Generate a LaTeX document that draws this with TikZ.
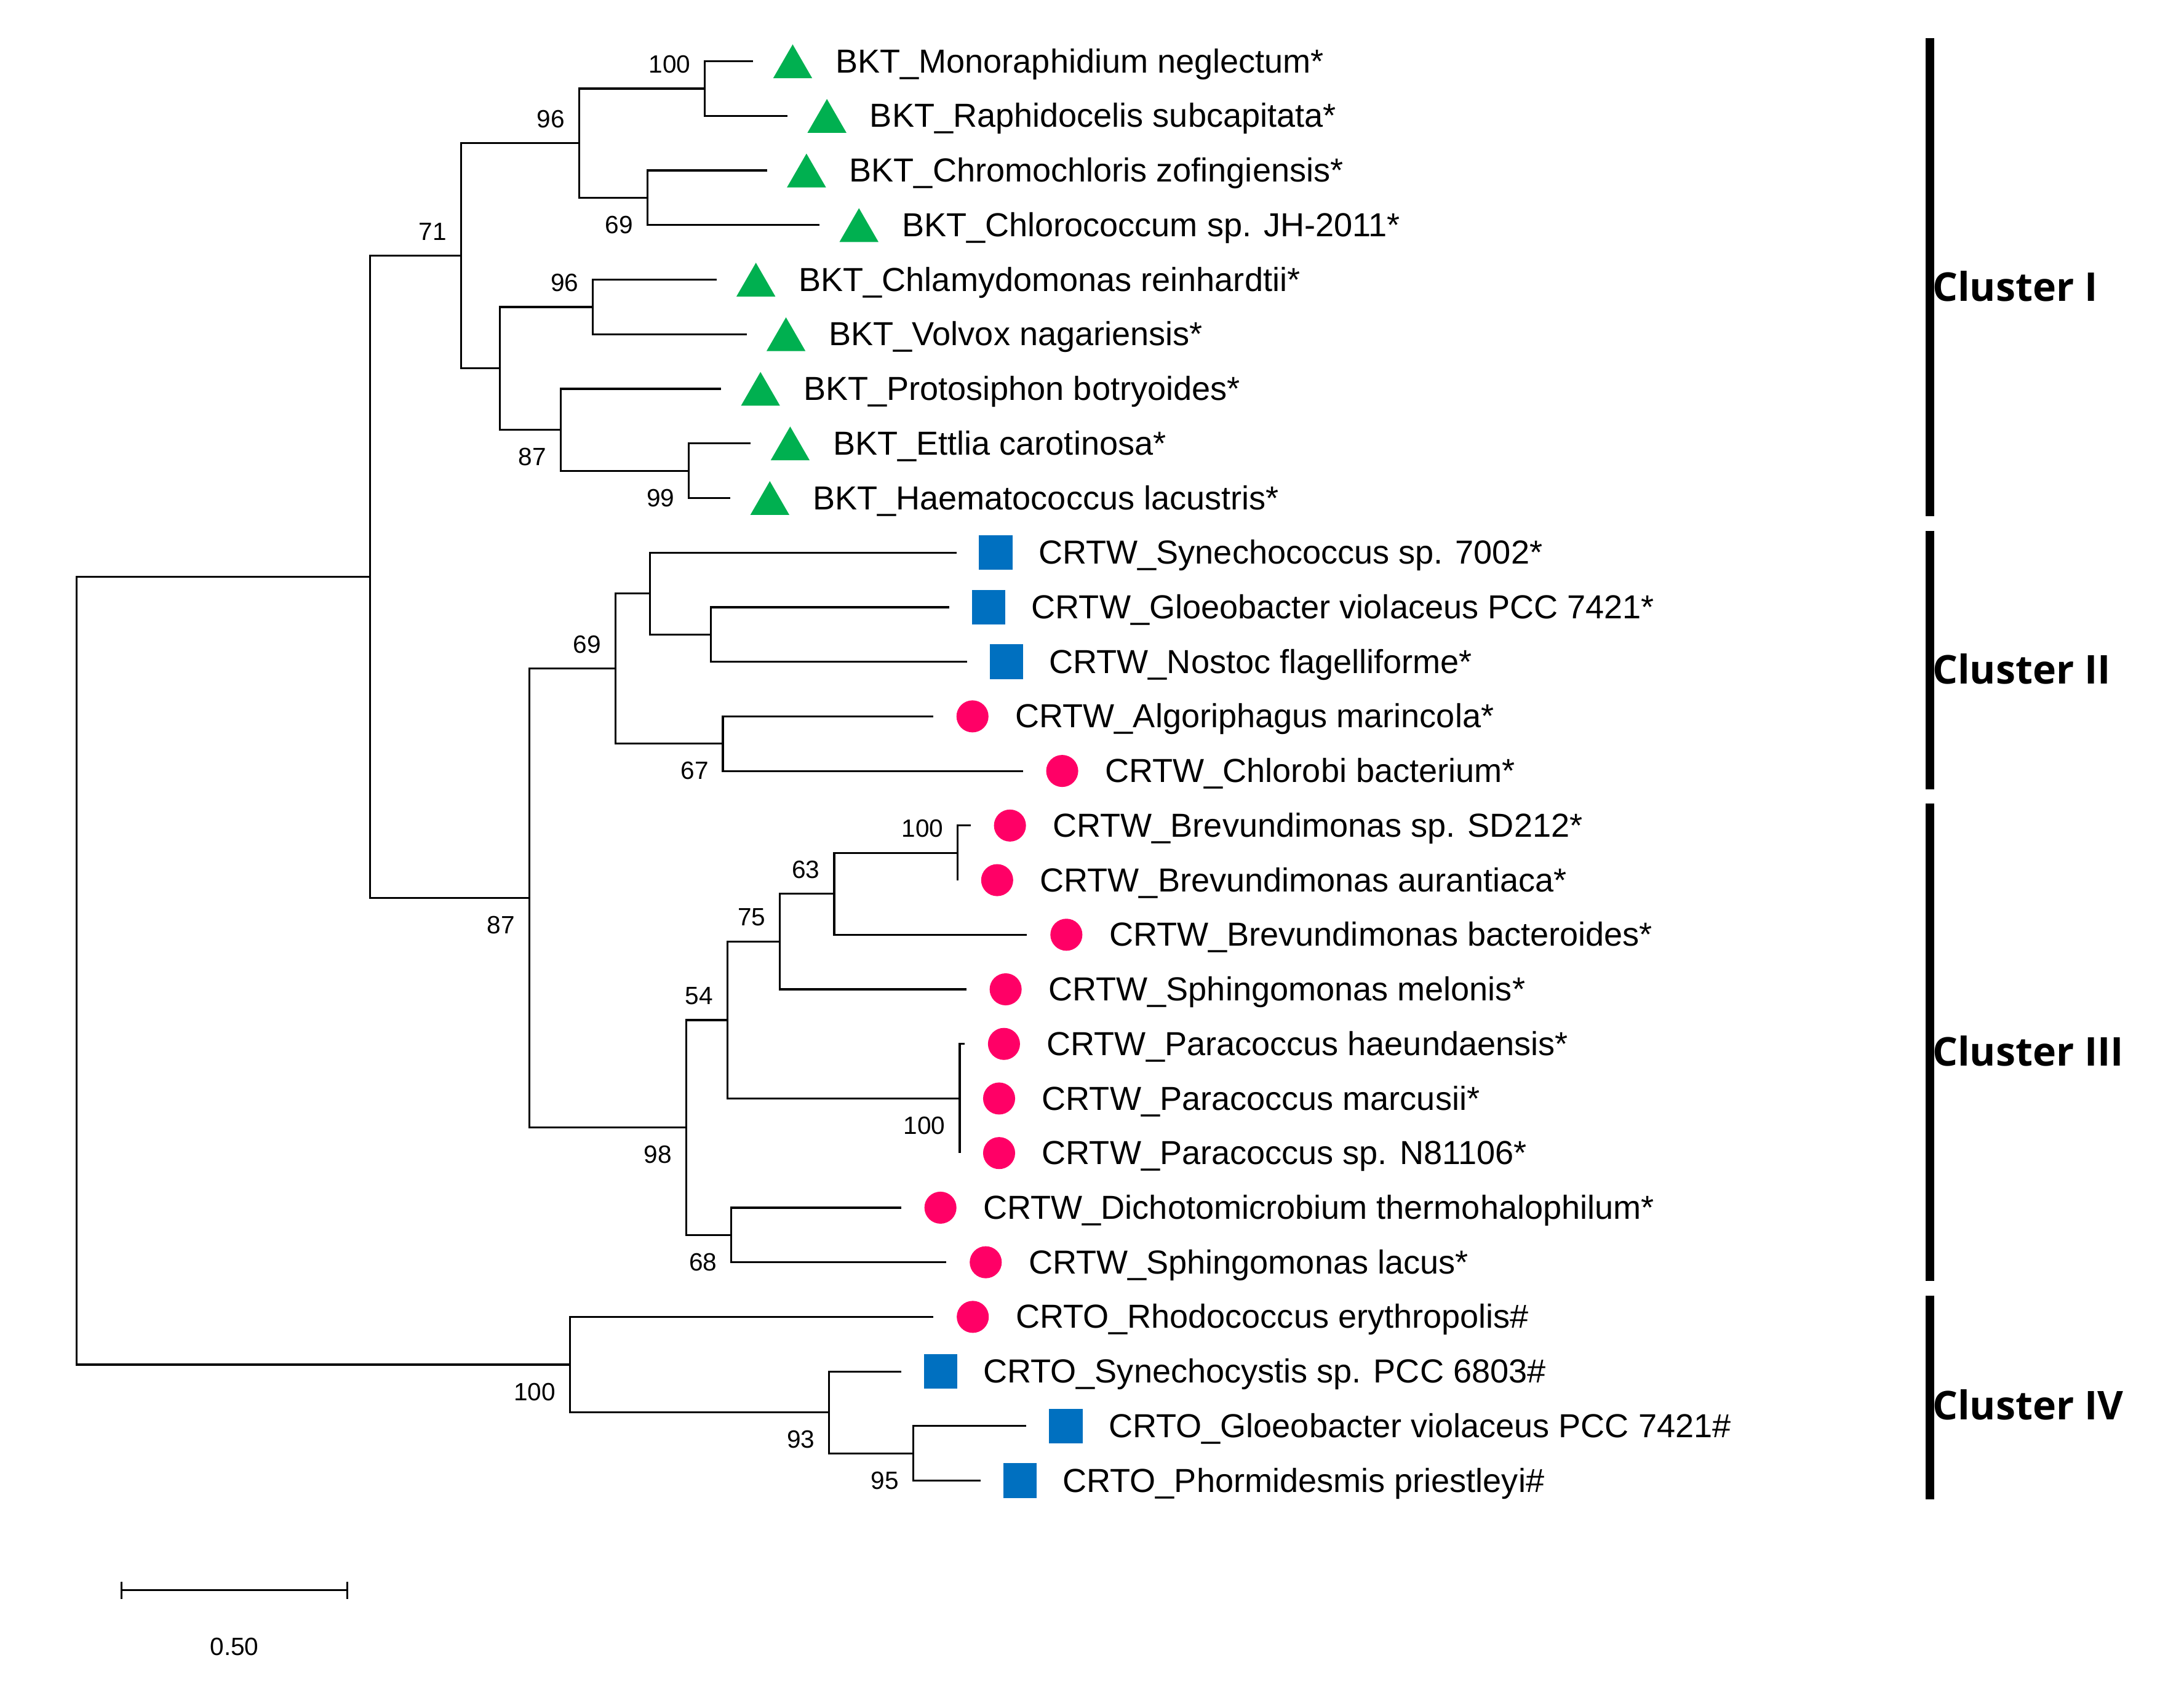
\documentclass[tikz,border=0pt]{standalone}
\usepackage{fontspec}
\setmainfont{Liberation Sans}
\newfontfamily\clusterfont{Open Sans}
\usetikzlibrary{shapes.geometric}

\definecolor{bktgreen}{RGB}{0,176,80}
\definecolor{crtblue}{RGB}{0,112,192}
\definecolor{crtpink}{RGB}{255,0,102}

\tikzset{
  branch/.style={line width=0.8pt},
  tri/.style={regular polygon, regular polygon sides=3, fill=bktgreen, inner sep=0pt, minimum size=0.647cm, yshift=-0.081cm},
  sq/.style={rectangle, fill=crtblue, inner sep=0pt, minimum width=0.48cm, minimum height=0.5cm},
  dot/.style={circle, fill=crtpink, inner sep=0pt, minimum size=0.46cm},
  taxon/.style={anchor=base west, inner sep=0pt, font=\fontsize{13.6}{16}\selectfont},
  boot/.style={anchor=east, inner sep=0pt, font=\fontsize{10.2}{12}\selectfont},
  bsup/.style={boot, xshift=-0.2cm, yshift=0.35cm},
  bsdn/.style={boot, xshift=-0.2cm, yshift=-0.39cm},
  clbar/.style={line width=0.12cm},
  cllab/.style={anchor=base west, inner sep=0pt, font=\clusterfont\bfseries\fontsize{16.2}{19}\selectfont}
}

\begin{document}
\begin{tikzpicture}[x=0.02cm, y=-0.02cm]
\useasboundingbox (0,0) rectangle (1568,1211);
\def\leafnode#1#2#3#4#5{%
  \coordinate (l#1) at (#2,#3);
  \node[#4] (m#1) at ([xshift=0.566cm]l#1) {};
  \node[taxon] (t#1) at ([xshift=1.176cm,yshift=-0.164cm]l#1) {#5};
}
% leaves
\leafnode{1}{540.8}{44.00}{tri}{BKT\_Monoraphidium neglectum*}
\leafnode{2}{565.4}{83.19}{tri}{BKT\_Raphidocelis subcapitata*}
\leafnode{3}{550.7}{122.38}{tri}{BKT\_Chromochloris zofingiensis*}
\leafnode{4}{588.4}{161.57}{tri}{BKT\_Chlorococcum sp. JH-2011*}
\leafnode{5}{514.4}{200.76}{tri}{BKT\_Chlamydomonas reinhardtii*}
\leafnode{6}{536.0}{239.95}{tri}{BKT\_Volvox nagariensis*}
\leafnode{7}{517.7}{279.14}{tri}{BKT\_Protosiphon botryoides*}
\leafnode{8}{539.0}{318.33}{tri}{BKT\_Ettlia carotinosa*}
\leafnode{9}{524.4}{357.52}{tri}{BKT\_Haematococcus lacustris*}
\leafnode{10}{686.6}{396.71}{sq}{CRTW\_Synechococcus sp. 7002*}
\leafnode{11}{681.5}{435.90}{sq}{CRTW\_Gloeobacter violaceus PCC 7421*}
\leafnode{12}{694.2}{475.09}{sq}{CRTW\_Nostoc flagelliforme*}
\leafnode{13}{669.9}{514.28}{dot}{CRTW\_Algoriphagus marincola*}
\leafnode{14}{734.3}{553.47}{dot}{CRTW\_Chlorobi bacterium*}
\leafnode{15}{696.8}{592.66}{dot}{CRTW\_Brevundimonas sp. SD212*}
\leafnode{16}{687.6}{631.85}{dot}{CRTW\_Brevundimonas aurantiaca*}
\leafnode{17}{737.3}{671.04}{dot}{CRTW\_Brevundimonas bacteroides*}
\leafnode{18}{693.7}{710.23}{dot}{CRTW\_Sphingomonas melonis*}
\leafnode{19}{692.5}{749.42}{dot}{CRTW\_Paracoccus haeundaensis*}
\leafnode{20}{689.0}{788.61}{dot}{CRTW\_Paracoccus marcusii*}
\leafnode{21}{689.0}{827.80}{dot}{CRTW\_Paracoccus sp. N81106*}
\leafnode{22}{646.9}{866.99}{dot}{CRTW\_Dichotomicrobium thermohalophilum*}
\leafnode{23}{679.4}{906.18}{dot}{CRTW\_Sphingomonas lacus*}
\leafnode{24}{670.1}{945.37}{dot}{CRTO\_Rhodococcus erythropolis\#}
\leafnode{25}{646.9}{984.56}{sq}{CRTO\_Synechocystis sp. PCC 6803\#}
\leafnode{26}{736.9}{1023.75}{sq}{CRTO\_Gloeobacter violaceus PCC 7421\#}
\leafnode{27}{703.9}{1062.94}{sq}{CRTO\_Phormidesmis priestleyi\#}
% inner nodes
\coordinate (root) at (55,696.9);
\coordinate (nA) at (265.7,414.16);
\coordinate (n71) at (331,183.62);
\coordinate (n96a) at (415.8,102.79);
\coordinate (n100a) at (506,63.6);
\coordinate (n69a) at (464.8,141.98);
\coordinate (nB) at (358.7,264.45);
\coordinate (n96b) at (425.6,220.36);
\coordinate (n87a) at (402.6,308.53);
\coordinate (n99) at (494.6,337.93);
\coordinate (n87b) at (380,644.7);
\coordinate (n69b) at (441.9,479.99);
\coordinate (nC) at (466.5,426.1);
\coordinate (nD) at (510.5,455.5);
\coordinate (n67) at (519,533.88);
\coordinate (n98) at (492.6,809.44);
\coordinate (n54) at (522.3,732.28);
\coordinate (n75) at (559.9,675.94);
\coordinate (n63) at (598.9,641.65);
\coordinate (n100b) at (687.6,612.26);
\coordinate (n100p) at (689,788.61);
\coordinate (n68) at (525,886.59);
\coordinate (nIV) at (409.2,979.67);
\coordinate (n93) at (595.3,1013.96);
\coordinate (n95) at (655.7,1043.35);
% branches
\draw[branch] (root) |- (nA) (root) |- (nIV);
\draw[branch] (nA) |- (n71) (nA) |- (n87b);
\draw[branch] (n71) |- (n96a) (n71) |- (nB);
\draw[branch] (n96a) |- (n100a) (n96a) |- (n69a);
\draw[branch] (n100a) |- (l1) (n100a) |- (l2);
\draw[branch] (n69a) |- (l3) (n69a) |- (l4);
\draw[branch] (nB) |- (n96b) (nB) |- (n87a);
\draw[branch] (n96b) |- (l5) (n96b) |- (l6);
\draw[branch] (n87a) |- (l7) (n87a) |- (n99);
\draw[branch] (n99) |- (l8) (n99) |- (l9);
\draw[branch] (n87b) |- (n69b) (n87b) |- (n98);
\draw[branch] (n69b) |- (nC) (n69b) |- (n67);
\draw[branch] (nC) |- (l10) (nC) |- (nD);
\draw[branch] (nD) |- (l11) (nD) |- (l12);
\draw[branch] (n67) |- (l13) (n67) |- (l14);
\draw[branch] (n98) |- (n54) (n98) |- (n68);
\draw[branch] (n54) |- (n75) (n54) |- (n100p);
\draw[branch] (n75) |- (n63) (n75) |- (l18);
\draw[branch] (n63) |- (n100b) (n63) |- (l17);
\draw[branch] (n100b) |- (l15) (n100b) |- (l16);
\draw[branch] (n100p) |- (l19) (n100p) |- (l20) (n100p) |- (l21);
\draw[branch] (n68) |- (l22) (n68) |- (l23);
\draw[branch] (nIV) |- (l24) (nIV) |- (n93);
\draw[branch] (n93) |- (l25) (n93) |- (n95);
\draw[branch] (n95) |- (l26) (n95) |- (l27);
% bootstrap values
\node[bsup] (b100a) at (n100a) {100};
\node[bsup] (b96a) at (n96a) {96};
\node[bsdn] (b69a) at (n69a) {69};
\node[bsup] (b71) at (n71) {71};
\node[bsup] (b96b) at (n96b) {96};
\node[bsdn] (b87a) at (n87a) {87};
\node[bsdn] (b99) at (n99) {99};
\node[bsup] (b69b) at (n69b) {69};
\node[bsdn] (b67) at (n67) {67};
\node[bsdn] (b87b) at (n87b) {87};
\node[bsup] (b100b) at (n100b) {100};
\node[bsup] (b63) at (n63) {63};
\node[bsup] (b75) at (n75) {75};
\node[bsup] (b54) at (n54) {54};
\node[bsdn] (b100p) at (n100p) {100};
\node[bsdn] (b98) at (n98) {98};
\node[bsdn] (b68) at (n68) {68};
\node[bsdn] (b100IV) at (nIV) {100};
\node[bsdn] (b93) at (n93) {93};
\node[bsdn] (b95) at (n95) {95};
% scale bar
\coordinate (sb0) at (87.4,1141.6);
\coordinate (sb1) at (249.2,1141.6);
\draw[branch] (sb0) -- (sb1);
\draw[branch] ([yshift=0.125cm]sb0) -- ([yshift=-0.125cm]sb0);
\draw[branch] ([yshift=0.125cm]sb1) -- ([yshift=-0.125cm]sb1);
\node[boot, anchor=center] (sblab) at (168.3,1182) {0.50};
% clusters
\draw[clbar] (1385.6,27.4) -- (1385.6,370.6);
\draw[clbar] (1385.6,381) -- (1385.6,566.7);
\draw[clbar] (1385.6,577) -- (1385.6,919.6);
\draw[clbar] (1385.6,930) -- (1385.6,1076.5);
\node[cllab] (cl1) at (1387,216) {Cluster I};
\node[cllab] (cl2) at (1387,491) {Cluster II};
\node[cllab] (cl3) at (1387,765) {Cluster III};
\node[cllab] (cl4) at (1387,1019) {Cluster IV};
\end{tikzpicture}
\end{document}
